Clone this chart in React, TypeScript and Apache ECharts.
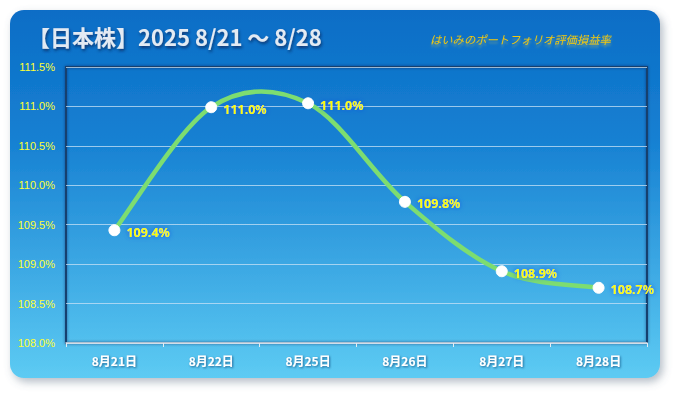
import React, { useEffect, useRef } from "react";
import * as echarts from "echarts";

const categories = ["8月21日", "8月22日", "8月25日", "8月26日", "8月27日", "8月28日"];
const values = [109.43, 110.99, 111.04, 109.79, 108.91, 108.7];
const yMin = 108.0;
const yMax = 111.5;
const yStep = 0.5;
const titleText = "【日本株】2025 8/21 〜 8/28";
const subtitleText = "はいみのポートフォリオ評価損益率";

function splinePath(pts: number[][]): string {
  if (pts.length < 2) return "";
  let d = `M${pts[0][0]},${pts[0][1]}`;
  for (let i = 0; i < pts.length - 1; i++) {
    const p0 = pts[Math.max(0, i - 1)];
    const p1 = pts[i];
    const p2 = pts[i + 1];
    const p3 = pts[Math.min(pts.length - 1, i + 2)];
    const c1x = p1[0] + (p2[0] - p0[0]) / 6;
    const c1y = p1[1] + (p2[1] - p0[1]) / 6;
    const c2x = p2[0] - (p3[0] - p1[0]) / 6;
    const c2y = p2[1] - (p3[1] - p1[1]) / 6;
    d += ` C${c1x},${c1y} ${c2x},${c2y} ${p2[0]},${p2[1]}`;
  }
  return d;
}

export default function App() {
  const ref = useRef<HTMLDivElement>(null);
  useEffect(() => {
    document.body.style.margin = "0";
    const chart = echarts.init(ref.current!, undefined, { renderer: "svg" });
    chart.setOption({
      animation: false,
      graphic: [
        {
          type: "rect",
          z: -10,
          shape: { x: 10, y: 10, width: 650, height: 368, r: 14 },
          style: {
            fill: new echarts.graphic.LinearGradient(0, 0, 0, 1, [
              { offset: 0, color: "#0a6dc6" },
              { offset: 0.35, color: "#1680d2" },
              { offset: 1, color: "#5dcbf3" },
            ]),
            shadowBlur: 8,
            shadowOffsetX: 3,
            shadowOffsetY: 4,
            shadowColor: "rgba(90,110,130,0.45)",
          },
        },
        {
          type: "text",
          left: 28,
          top: 25,
          style: {
            text: titleText,
            fill: "#e3eaf3",
            font: "bold 22px 'Noto Sans CJK JP', sans-serif",
            textShadowColor: "rgba(10,40,90,0.8)",
            textShadowBlur: 3,
            textShadowOffsetX: 1,
            textShadowOffsetY: 2,
          },
        },
        {
          type: "text",
          left: 430,
          top: 33,
          style: {
            text: subtitleText,
            fill: "#f2c810",
            font: "italic 11.3px 'Noto Sans CJK JP', sans-serif",
            textShadowColor: "rgba(255,220,60,0.35)",
            textShadowBlur: 2,
            textShadowOffsetY: 3,
          },
        },
      ],
      grid: {
        left: 66,
        right: 28,
        top: 67,
        bottom: 50,
        show: true,
        borderColor: "#123f6e",
        borderWidth: 2,
        shadowColor: "rgba(0,20,60,0.5)",
        shadowBlur: 3,
      },
      xAxis: {
        type: "category",
        data: categories,
        boundaryGap: true,
        axisLine: { show: true, lineStyle: { color: "#e2ecf4", width: 1.5 } },
        axisTick: { show: true, length: 4, lineStyle: { color: "#e2ecf4" } },
        axisLabel: {
          color: "#ffffff",
          fontSize: 12,
          fontWeight: "bold",
          fontFamily: "'Noto Sans CJK JP', sans-serif",
          margin: 11,
          textShadowColor: "rgba(20,60,110,0.7)",
          textShadowBlur: 2,
          textShadowOffsetX: 1,
          textShadowOffsetY: 1,
        },
      },
      yAxis: {
        type: "value",
        min: yMin,
        max: yMax,
        interval: yStep,
        axisLine: { show: false },
        axisTick: { show: false },
        axisLabel: {
          color: "#ffff33",
          fontSize: 11,
          fontFamily: "'Liberation Sans', sans-serif",
          margin: 11,
          formatter: (v: number) => v.toFixed(1) + "%",
        },
        splitLine: { lineStyle: { color: "rgba(200,225,245,0.75)", width: 1 } },
      },
      series: [
        {
          type: "custom",
          data: values.map((v, i) => [i, v]),
          z: 2,
          silent: true,
          renderItem: (params: any, api: any) => {
            if (params.dataIndex !== 0) return null;
            const pts = values.map((v, i) => api.coord([i, v]));
            return {
              type: "path",
              shape: { pathData: splinePath(pts) },
              style: { fill: "none", stroke: "#7ddd70", lineWidth: 4.5 },
            };
          },
        },
        {
          type: "line",
          data: values,
          z: 3,
          symbol: "circle",
          symbolSize: 11,
          itemStyle: { color: "#ffffff", borderColor: "#ffffff" },
          lineStyle: { opacity: 0, width: 0 },
          label: {
            show: true,
            position: "right",
            distance: 6,
            offset: [0, 2],
            color: "#ffff00",
            fontSize: 12.5,
            fontWeight: "bold",
            fontFamily: "'Noto Sans', sans-serif",
            textShadowColor: "#1a50e0",
            textShadowBlur: 5,
            formatter: (p: any) => Number(p.value).toFixed(1) + "%",
          },
        },
      ],
    });
    return () => chart.dispose();
  }, []);
  return <div ref={ref} style={{ width: 675, height: 393 }} />;
}
